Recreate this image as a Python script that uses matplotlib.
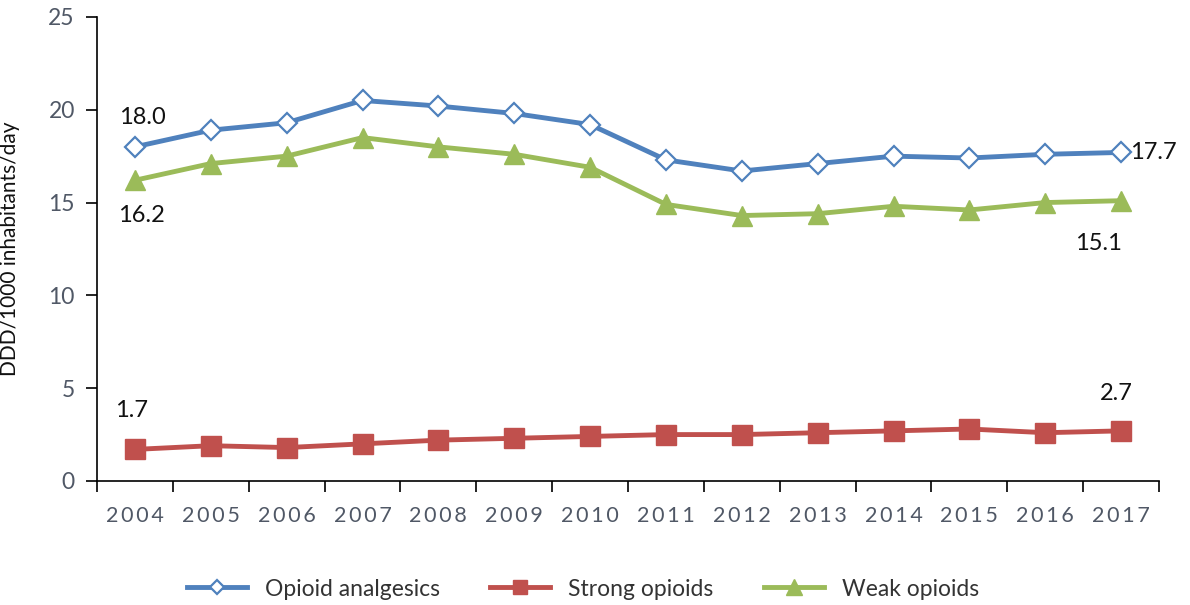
import matplotlib.pyplot as plt
import numpy as np

years = ['2004', '2005', '2006', '2007', '2008', '2009', '2010',
         '2011', '2012', '2013', '2014', '2015', '2016', '2017']
opioid_analgesics = [18.0, 18.9, 19.3, 20.5, 20.2, 19.8, 19.2,
                     17.3, 16.7, 17.1, 17.5, 17.4, 17.6, 17.7]
strong_opioids = [1.7, 1.9, 1.8, 2.0, 2.2, 2.3, 2.4,
                  2.5, 2.5, 2.6, 2.7, 2.8, 2.6, 2.7]
weak_opioids = [16.2, 17.1, 17.5, 18.5, 18.0, 17.6, 16.9,
                14.9, 14.3, 14.4, 14.8, 14.6, 15.0, 15.1]

plt.rcParams['font.family'] = ['Lato', 'DejaVu Sans']

blue = '#4F81BD'
red = '#C0504D'
green = '#9BBB59'
tick_col = '#505866'

fig = plt.figure(figsize=(11.9, 6.05), dpi=100)
ax = fig.add_axes([0.0815, 0.205, 0.8925, 0.767])

x = np.arange(len(years))
ax.plot(x, opioid_analgesics, color=blue, lw=3.5, marker='D', ms=10,
        mfc='white', mec=blue, mew=1.6, label='Opioid analgesics', zorder=3)
ax.plot(x, strong_opioids, color=red, lw=3.5, marker='s', ms=14,
        mfc=red, mec=red, label='Strong opioids', zorder=3)
ax.plot(x, weak_opioids, color=green, lw=3.5, marker='^', ms=15,
        mfc=green, mec=green, label='Weak opioids', zorder=3)

ax.set_xlim(-0.5, len(years) - 0.5)
ax.set_ylim(0, 25)
ax.set_yticks([0, 5, 10, 15, 20, 25])
ax.set_xticks(np.arange(-0.5, len(years), 1.0))
ax.set_xticklabels([])
ax.set_xticks(x, minor=True)
ax.set_xticklabels(['\u2009'.join(y) for y in years], minor=True)
ax.tick_params(axis='x', which='minor', length=0, pad=18,
               labelsize=15.5, labelcolor=tick_col)
ax.tick_params(axis='x', which='major', length=8, width=1.2, direction='out')
ax.tick_params(axis='y', length=8, width=1.2, direction='out', pad=8,
               labelsize=16.5, labelcolor=tick_col)

for s in ['top', 'right']:
    ax.spines[s].set_visible(False)
for s in ['left', 'bottom']:
    ax.spines[s].set_linewidth(1.2)

ax.set_ylabel('DDD/1000 inhabitants/day', fontsize=15, color='#111111', labelpad=20)

ann = dict(fontsize=17, color='#111111')
ax.text(0.1, 19.6, f'{opioid_analgesics[0]:.1f}', ha='center', va='center', **ann)
ax.text(0.08, 14.3, f'{weak_opioids[0]:.1f}', ha='center', va='center', **ann)
ax.text(-0.05, 3.8, f'{strong_opioids[0]:.1f}', ha='center', va='center', **ann)
ax.text(13.12, opioid_analgesics[-1], f'{opioid_analgesics[-1]:.1f}', ha='left', va='center', **ann)
ax.text(12.7, 12.8, f'{weak_opioids[-1]:.1f}', ha='center', va='center', **ann)
ax.text(12.93, 4.7, f'{strong_opioids[-1]:.1f}', ha='center', va='center', **ann)

leg = fig.legend(loc='lower center', bbox_to_anchor=(0.49, -0.025), ncol=3,
                 frameon=False, fontsize=16.5, handlelength=2.6,
                 columnspacing=2.2, markerscale=0.75)
for t in leg.get_texts():
    t.set_color('#333333')

fig.savefig('out.png', dpi=100)
